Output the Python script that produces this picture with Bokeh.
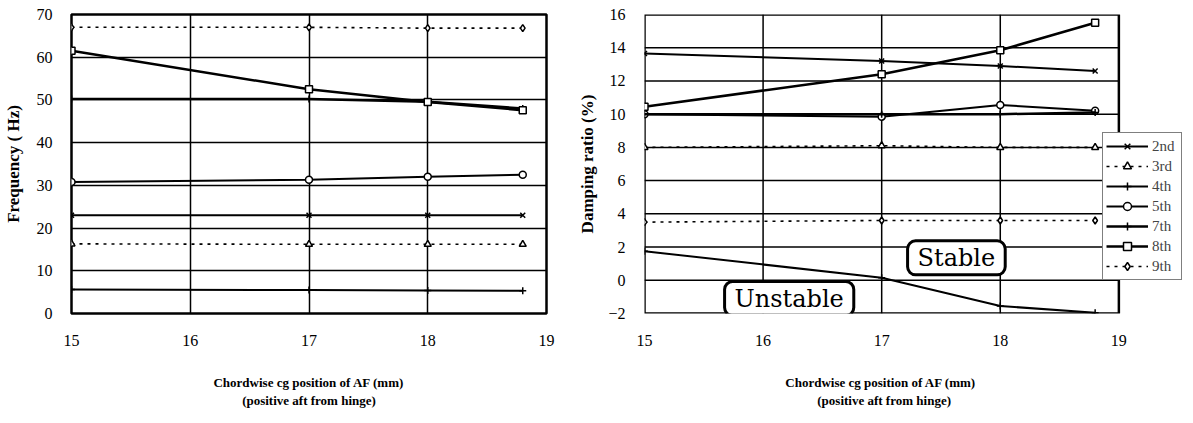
from bokeh.plotting import figure
from bokeh.layouts import row
from bokeh.models import Range1d, FixedTicker, Legend, LegendItem, Label
from bokeh.embed import file_html
from bokeh.resources import INLINE

# ---- data ----
cg_pos = [15.0, 17.0, 18.0, 18.8]
modes = ["2nd", "3rd", "4th", "5th", "7th", "8th", "9th"]

freq_2nd = [23.0, 23.0, 23.0, 23.0]
freq_3rd = [16.3, 16.2, 16.2, 16.2]
freq_4th = [5.6, 5.5, 5.4, 5.3]
freq_5th = [30.8, 31.3, 32.0, 32.5]
freq_7th = [50.2, 50.2, 49.6, 48.0]
freq_8th = [61.5, 52.5, 49.5, 47.6]
freq_9th = [67.0, 67.0, 66.8, 66.8]

damp_2nd = [13.65, 13.2, 12.9, 12.6]
damp_3rd = [8.0, 8.1, 8.0, 8.0]
damp_4th = [1.75, 0.15, -1.55, -1.95]
damp_5th = [10.0, 9.85, 10.55, 10.2]
damp_7th = [10.0, 10.0, 10.0, 10.1]
damp_8th = [10.45, 12.4, 13.85, 15.5]
damp_9th = [3.5, 3.6, 3.6, 3.6]

x_ticks = [15, 16, 17, 18, 19]
freq_ticks = [0, 10, 20, 30, 40, 50, 60, 70]
damp_ticks = [-2, 0, 2, 4, 6, 8, 10, 12, 14, 16]

FONT = "Liberation Serif"
XLABEL_1 = "Chordwise cg position of AF (mm)"
XLABEL_2 = "(positive aft from hinge)"

styles = {
    "2nd": dict(marker="x", dash="solid", width=2),
    "3rd": dict(marker="triangle", dash="3 5", width=1.6),
    "4th": dict(marker="cross", dash="solid", width=2),
    "5th": dict(marker="circle", dash="solid", width=2),
    "7th": dict(marker="cross", dash="solid", width=2.5),
    "8th": dict(marker="square", dash="solid", width=2.5),
    "9th": dict(marker="diamond", dash="3 5", width=1.6),
}


def base_fig(width, xhi, ylo, yhi, yticks, ylabel, xlabel, bl, br, top, ystand):
    p = figure(width=width, height=423, output_backend="svg", toolbar_location=None,
               x_range=Range1d(15, xhi), y_range=Range1d(ylo, yhi),
               min_border_left=bl, min_border_right=br, min_border_top=top,
               min_border_bottom=423 - 313 - top + 12)
    p.background_fill_color = "white"
    p.border_fill_color = "white"
    p.outline_line_color = "black"
    p.outline_line_width = 2.5
    p.xaxis.ticker = FixedTicker(ticks=x_ticks)
    p.yaxis.ticker = FixedTicker(ticks=yticks)
    for ax in (p.xaxis[0], p.yaxis[0]):
        ax.axis_line_color = None
        ax.major_tick_line_color = None
        ax.minor_tick_line_color = None
        ax.major_label_text_font = FONT
        ax.major_label_text_font_size = "16px"
        ax.major_label_text_color = "black"
        ax.axis_label_text_font = FONT
        ax.axis_label_text_font_style = "bold"
        ax.axis_label_text_color = "black"
    p.xaxis.major_label_standoff = 15
    p.yaxis.major_label_standoff = 13
    p.yaxis.axis_label = ylabel
    p.yaxis.axis_label_text_font_size = "17px"
    p.yaxis.axis_label_standoff = ystand
    p.xaxis.axis_label = xlabel
    p.xaxis.axis_label_text_font_size = "13px"
    p.xaxis.axis_label_standoff = 26
    p.xgrid.ticker = FixedTicker(ticks=[16, 17, 18])
    p.ygrid.ticker = FixedTicker(ticks=yticks[1:-1])
    for g in (p.xgrid[0], p.ygrid[0]):
        g.grid_line_color = "black"
        g.grid_line_width = 1.5
    return p


def add_series(p, ys_list):
    items = []
    for name, ys in zip(modes, ys_list):
        st = styles[name]
        lr = p.line(cg_pos, ys, line_color="black", line_width=st["width"], line_dash=st["dash"])
        sr = p.scatter(cg_pos, ys, marker=st["marker"], size=7, line_color="black",
                       fill_color="white", line_width=1.5)
        items.append(LegendItem(label=name, renderers=[lr, sr]))
    return items


p1 = base_fig(575, 19, 0, 70, freq_ticks, "Frequency ( Hz)",
              XLABEL_1 + "\n" + XLABEL_2, 69, 29, 12, 11)
add_series(p1, [freq_2nd, freq_3rd, freq_4th, freq_5th, freq_7th, freq_8th, freq_9th])

# right panel: frame extended to the right so the legend can overlap the box edge;
# trailing no-break spaces keep the caption centred under the 15-19 box
NB = "\u00a0"
xlabel2 = XLABEL_1 + NB * 21 + "\n" + XLABEL_2 + NB * 19
x_end = 15 + (1185 - 641) / ((1118 - 641) / 4.0)
p2 = base_fig(618, x_end, -2, 16, damp_ticks, "Damping ratio (%)", xlabel2, 66, 8, 14, 8)
p2.outline_line_color = None
p2.xgrid.grid_line_color = None
p2.ygrid.grid_line_color = None
inner_y = damp_ticks[1:-1]
p2.segment(x0=[x_ticks[0]] * len(inner_y), x1=[x_ticks[-1]] * len(inner_y), y0=inner_y, y1=inner_y,
           line_color="black", line_width=1.5)
inner_x = x_ticks[1:-1]
p2.segment(x0=inner_x, x1=inner_x, y0=[damp_ticks[0]] * len(inner_x), y1=[damp_ticks[-1]] * len(inner_x),
           line_color="black", line_width=1.5)
p2.quad(left=[x_ticks[0]], right=[x_ticks[-1]], bottom=[damp_ticks[0]], top=[damp_ticks[-1]],
        fill_color=None, line_color="black", line_width=2.5)

items = add_series(p2, [damp_2nd, damp_3rd, damp_4th, damp_5th, damp_7th, damp_8th, damp_9th])

legend = Legend(items=items, location=(458, 33), orientation="vertical",
                label_text_font=FONT, label_text_font_size="15px",
                glyph_width=42, glyph_height=20, label_height=20, label_width=26, label_standoff=4,
                spacing=0, padding=3, margin=0,
                border_line_color="black", border_line_width=1.5,
                background_fill_color="white", background_fill_alpha=1.0)
p2.add_layout(legend, "center")

for txt, x, y in [("Unstable", 16.22, -1.1), ("Stable", 17.63, 1.35)]:
    p2.add_layout(Label(x=x, y=y, text=txt, text_align="center", text_baseline="middle",
                        text_font="DejaVu Serif", text_font_size="24px", text_color="black",
                        border_line_color="black", border_line_width=3,
                        background_fill_color="white", background_fill_alpha=1.0,
                        padding=(10, 3), border_radius=8))

layout = row(p1, p2)
open("out.html", "w").write(file_html(layout, INLINE))
